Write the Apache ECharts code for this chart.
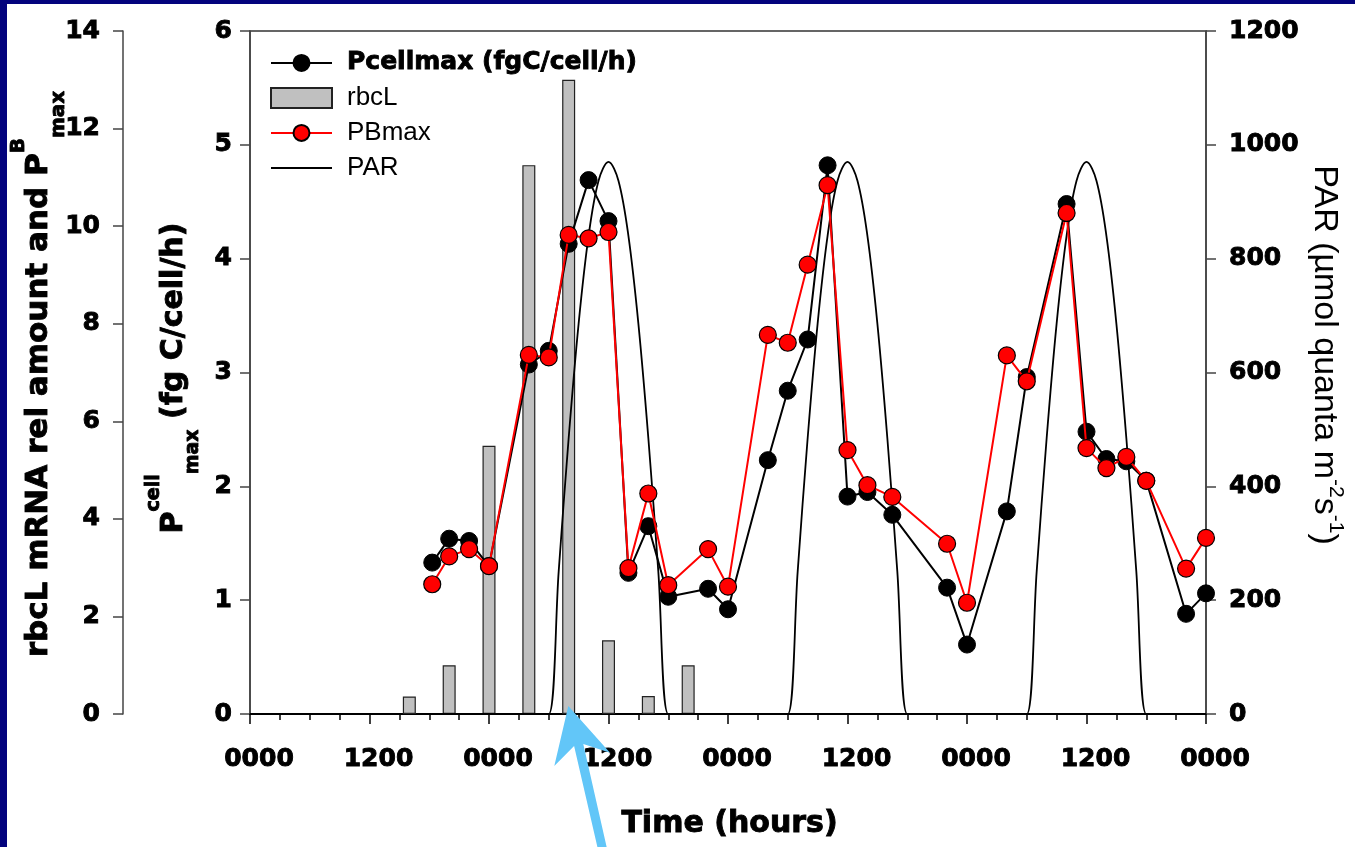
<!DOCTYPE html>
<html>
<head>
<meta charset="utf-8">
<script src="https://cdn.jsdelivr.net/npm/echarts@6/dist/echarts.min.js"></script>
<style>
  html, body { margin: 0; padding: 0; width: 1355px; height: 847px; overflow: hidden; background: #03037d; }
  #chart { position: absolute; left: 7px; top: 4px; width: 1348px; height: 843px; background: #ffffff; }
</style>
</head>
<body>
<div id="chart"></div>
<script>
// Sampling times (hours from the first midnight) for the photosynthesis measurements
const sampleHours = [18.3, 20, 22, 24, 28, 30, 32, 34, 36, 38, 40, 42, 46, 48, 52, 54,
                     56, 58, 60, 62, 64.5, 70, 72, 76, 78, 82, 84, 86, 88, 90, 94, 96];
// Pcellmax (fg C/cell/h), inner left axis
const pcellmax = [1.33, 1.54, 1.52, 1.30, 3.07, 3.19, 4.13, 4.69, 4.33, 1.24, 1.65, 1.03,
                  1.10, 0.92, 2.23, 2.84, 3.29, 4.82, 1.91, 1.95, 1.75, 1.11, 0.61, 1.78,
                  2.96, 4.48, 2.48, 2.24, 2.22, 2.05, 0.88, 1.06];
// PBmax, outer left axis
const pbmax = [2.66, 3.23, 3.38, 3.03, 7.36, 7.31, 9.82, 9.75, 9.88, 2.99, 4.52, 2.64,
               3.38, 2.61, 7.77, 7.61, 9.21, 10.84, 5.41, 4.69, 4.45, 3.49, 2.28, 7.35,
               6.82, 10.27, 5.45, 5.04, 5.27, 4.78, 2.98, 3.61];
// rbcL mRNA relative amount, outer left axis
const rbclHours = [16, 20, 24, 28, 32, 36, 40, 44];
const rbcl = [0.36, 1.00, 5.50, 11.25, 13.00, 1.51, 0.37, 1.00];
// PAR (umol quanta m-2 s-1), hourly from hour 18 to hour 96
const parStartHour = 18;
const par = [
  0, 0, 0, 0, 0, 0, 0, 0, 0, 0, 0, 0,
  0, 251, 485, 686, 840, 937, 970, 937, 840, 686, 485, 251, 0,
  0, 0, 0, 0, 0, 0, 0, 0, 0, 0, 0,
  0, 251, 485, 686, 840, 937, 970, 937, 840, 686, 485, 251, 0,
  0, 0, 0, 0, 0, 0, 0, 0, 0, 0, 0,
  0, 251, 485, 686, 840, 937, 970, 937, 840, 686, 485, 251, 0,
  0, 0, 0, 0, 0, 0
];
const timeTicks = ['0000', '1200'];

// page offset of the white chart panel
const OX = 7, OY = 4;

const pair = (xs, ys) => xs.map((x, i) => [x, ys[i]]);
const parData = par.map((v, i) => [parStartHour + i, v]);

// heavy black lettering: bold face plus a thin outline of the same colour
const tickLabel = {
  color: '#000', fontFamily: 'DejaVu Sans', fontWeight: 'bold', fontSize: 25,
  textBorderColor: '#000', textBorderWidth: 0.9
};
const axisGrey = '#444';

const boldTitle = { fill: '#000', fontFamily: 'DejaVu Sans', fontWeight: 'bold', stroke: '#000', lineWidth: 0.9 };
const plainTitle = { fill: '#000', fontFamily: 'Liberation Sans', fontWeight: 'normal' };

const chart = echarts.init(document.getElementById('chart'), null, { renderer: 'canvas' });

const option = {
  animation: false,
  grid: { left: 243, top: 27, right: 149, bottom: 133, show: true, borderColor: '#333', borderWidth: 1.5, backgroundColor: 'transparent' },
  legend: {
    orient: 'vertical', left: 258, top: 41, itemWidth: 61, itemHeight: 20, itemGap: 9,
    selectedMode: false,
    textStyle: { color: '#000', fontFamily: 'Liberation Sans', fontSize: 26, padding: [0, 0, 0, 10] },
    data: [
      { name: 'Pcellmax (fgC/cell/h)', textStyle: { fontFamily: 'DejaVu Sans', fontWeight: 'bold', fontSize: 25, textBorderColor: '#000', textBorderWidth: 0.9, padding: [0, 0, 0, 10] } },
      { name: 'rbcL', icon: 'rect' },
      { name: 'PBmax' },
      { name: 'PAR', itemStyle: { color: 'rgba(0,0,0,0)', borderColor: 'rgba(0,0,0,0)', borderWidth: 0 } }
    ]
  },
  xAxis: {
    type: 'value', min: 0, max: 96, interval: 12,
    axisLine: { lineStyle: { color: '#000', width: 2 } },
    axisTick: { length: 10, lineStyle: { color: '#000', width: 1.5 } },
    minorTick: { show: true, splitNumber: 4, length: 6, lineStyle: { color: '#000', width: 1.5 } },
    splitLine: { show: false }, minorSplitLine: { show: false },
    axisLabel: Object.assign({}, tickLabel, { margin: 33, padding: [0, 0, 0, 18], formatter: v => timeTicks[Math.round(v / 12) % 2] })
  },
  yAxis: [
    {
      type: 'value', min: 0, max: 6, interval: 1, position: 'left',
      axisLine: { show: true, lineStyle: { color: axisGrey, width: 1.5 } },
      axisTick: { show: true, length: 10, lineStyle: { color: axisGrey, width: 1.5 } },
      splitLine: { show: false },
      axisLabel: Object.assign({}, tickLabel, { margin: 18 })
    },
    {
      type: 'value', min: 0, max: 14, interval: 2, position: 'left', offset: 127,
      axisLine: { show: true, lineStyle: { color: axisGrey, width: 1.5 } },
      axisTick: { show: true, length: 10, lineStyle: { color: axisGrey, width: 1.5 } },
      splitLine: { show: false },
      axisLabel: Object.assign({}, tickLabel, { margin: 23 })
    },
    {
      type: 'value', min: 0, max: 1200, interval: 200, position: 'right',
      axisLine: { show: true, lineStyle: { color: axisGrey, width: 1.5 } },
      axisTick: { show: true, length: 10, lineStyle: { color: axisGrey, width: 1.5 } },
      splitLine: { show: false },
      axisLabel: Object.assign({}, tickLabel, { margin: 23, formatter: v => String(v) })
    }
  ],
  series: [
    {
      name: 'rbcL', type: 'bar', yAxisIndex: 1, data: pair(rbclHours, rbcl), barWidth: 13,
      itemStyle: { color: '#c0c0c0', borderColor: '#222', borderWidth: 1.2 }, z: 1
    },
    {
      name: 'PAR', type: 'line', yAxisIndex: 2, data: parData, smooth: 0.35, symbol: 'none',
      lineStyle: { color: '#000', width: 1.8 }, itemStyle: { color: '#000' }, z: 2
    },
    {
      name: 'Pcellmax (fgC/cell/h)', type: 'line', yAxisIndex: 0, data: pair(sampleHours, pcellmax),
      symbol: 'circle', symbolSize: 17,
      lineStyle: { color: '#000', width: 2 }, itemStyle: { color: '#000', borderColor: '#000', borderWidth: 1 }, z: 3
    },
    {
      name: 'PBmax', type: 'line', yAxisIndex: 1, data: pair(sampleHours, pbmax),
      symbol: 'circle', symbolSize: 17,
      lineStyle: { color: '#ff0000', width: 2 }, itemStyle: { color: '#ff0000', borderColor: '#000', borderWidth: 1.2 }, z: 4
    }
  ],
  graphic: [
    {
      type: 'text', x: 39 - OX, y: 374 - OY, rotation: Math.PI / 2,
      style: {
        text: '{m|rbcL mRNA rel amount and P}{sup|B}{sub|max}',
        align: 'center', verticalAlign: 'middle',
        rich: {
          m: Object.assign({ fontSize: 31, lineHeight: 60, verticalAlign: 'middle' }, boldTitle),
          sup: Object.assign({ fontSize: 20, lineHeight: 20, verticalAlign: 'top' }, boldTitle),
          sub: Object.assign({ fontSize: 20, lineHeight: 36, verticalAlign: 'bottom' }, boldTitle)
        }
      }
    },
    {
      type: 'text', x: 174 - OX, y: 378 - OY, rotation: Math.PI / 2,
      style: {
        text: '{m|P}{sup|cell}{sub|max}{m| (fg C/cell/h)}',
        align: 'center', verticalAlign: 'middle',
        rich: {
          m: Object.assign({ fontSize: 30, lineHeight: 58, verticalAlign: 'middle' }, boldTitle),
          sup: Object.assign({ fontSize: 19, lineHeight: 19, verticalAlign: 'top' }, boldTitle),
          sub: Object.assign({ fontSize: 19, lineHeight: 31, verticalAlign: 'bottom' }, boldTitle)
        }
      }
    },
    {
      type: 'text', x: 1324 - OX, y: 355 - OY, rotation: -Math.PI / 2,
      style: {
        text: '{m|PAR (µmol quanta m}{sup|-2}{m|s}{sup|-1}{m|)}',
        align: 'center', verticalAlign: 'middle',
        rich: {
          m: Object.assign({ fontSize: 34, lineHeight: 44, verticalAlign: 'middle' }, plainTitle),
          sup: Object.assign({ fontSize: 21, lineHeight: 21, verticalAlign: 'top' }, plainTitle)
        }
      }
    },
    {
      type: 'text', x: 729.5 - OX, y: 824 - OY,
      style: { text: 'Time (hours)', align: 'center', verticalAlign: 'middle', fill: '#000', fontFamily: 'DejaVu Sans', fontWeight: 'bold', fontSize: 30, stroke: '#000', lineWidth: 0.9 }
    },
    {
      type: 'polygon', z: 100,
      shape: {
        points: [[568.3, 706], [610, 752.7], [583.3, 744], [609.6, 860], [600.4, 860], [574.1, 746], [554.3, 766]]
          .map(p => [p[0] - OX, p[1] - OY])
      },
      style: { fill: '#62c6f8' }
    }
  ]
};

chart.setOption(option);
</script>
</body>
</html>
